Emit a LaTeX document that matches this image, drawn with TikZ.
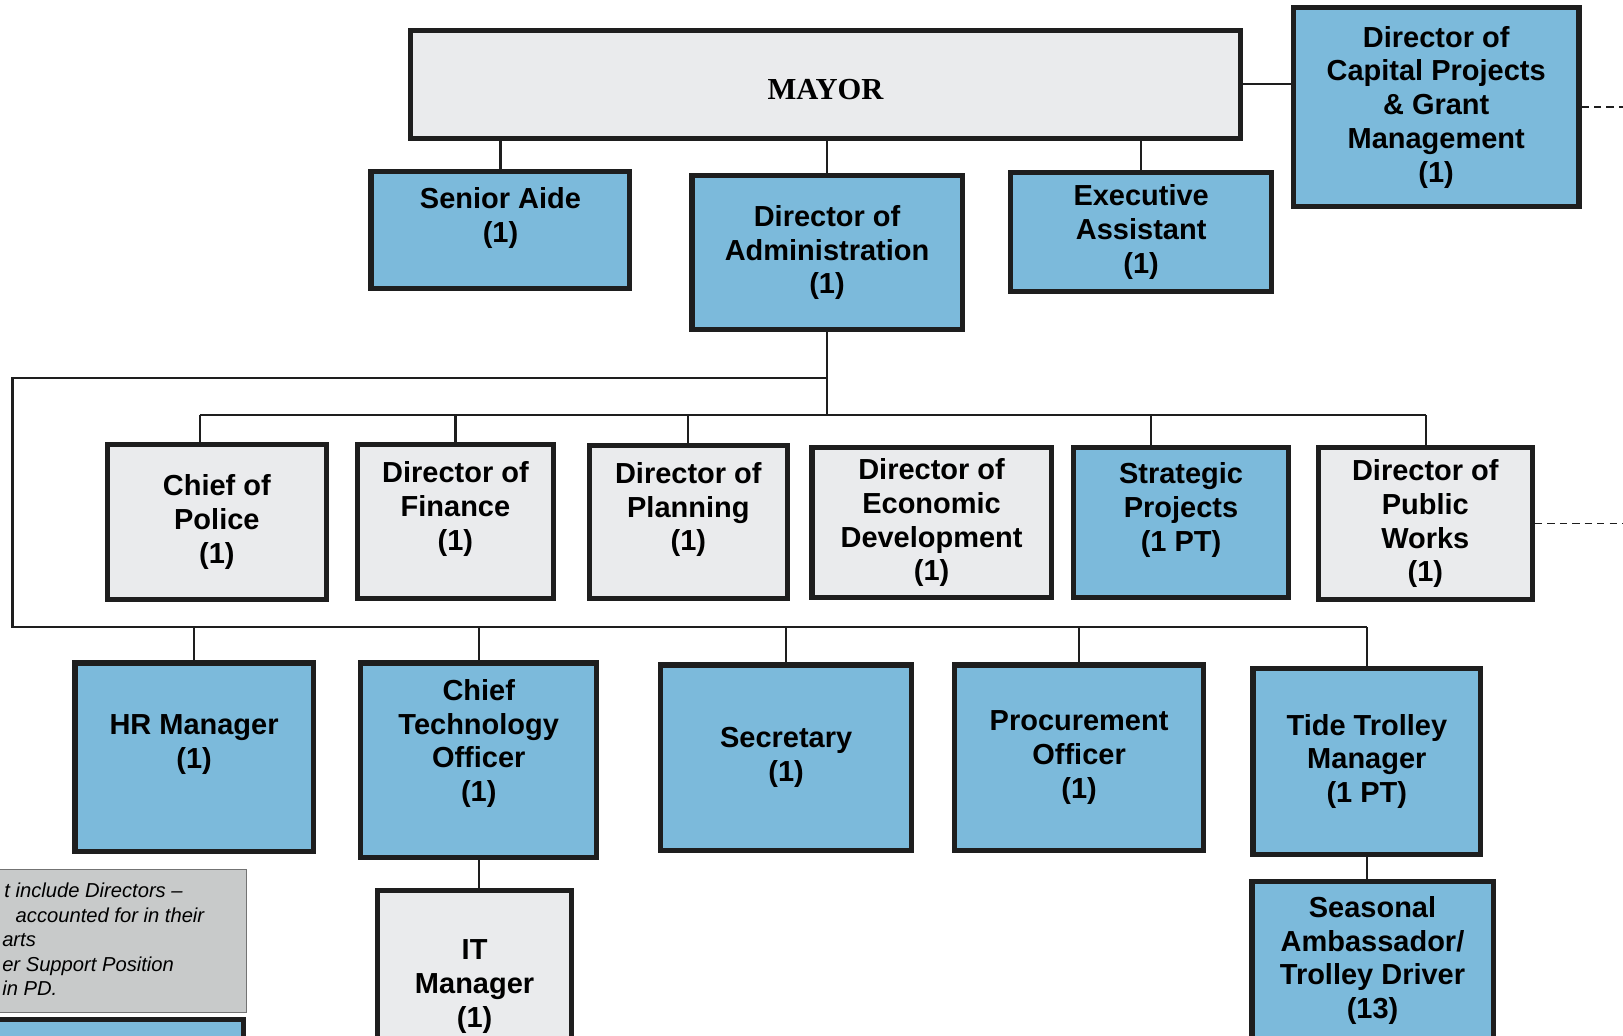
\documentclass[tikz,border=0pt]{standalone}
\usepackage{fontspec}
\setmainfont{Liberation Sans}
\newfontfamily\mayorfont{Liberation Serif}
\definecolor{boxblue}{RGB}{124,186,219}
\definecolor{boxgray}{RGB}{234,235,237}
\definecolor{notegray}{RGB}{200,202,202}
\definecolor{edge}{RGB}{30,30,30}

\begin{document}
\begin{tikzpicture}[x=1pt,y=-1pt,
  post/.style={draw=edge,line width=5pt,align=center,inner sep=2pt,
    font=\fontsize{28}{32.6}\selectfont\bfseries},
  bluepost/.style={post,fill=boxblue},
  graypost/.style={post,fill=boxgray},
  dims/.style 2 args={minimum width=#1pt,minimum height=#2pt},
  lift/.style={text depth=#1pt},
  link/.style={draw=edge,line width=2.1pt},
  dashlink/.style={draw=edge,line width=1.4pt,dash pattern=on 7pt off 5pt}]

\def\topbus{365}
\def\midbus{401}
\def\lowbus{606}

\useasboundingbox (0,0) rectangle (1568,1000);
\clip (0,0) rectangle (1568,1000);

\node[graypost,dims={802}{104},font=\mayorfont\fontsize{29.5}{32}\selectfont\bfseries,text height=30pt] (mayor) at (797.5,81.5) {MAYOR};
\node[bluepost,dims={276}{192}] (capital) at (1387.5,103.5) {Director of\\Capital Projects\\\& Grant\\Management\\(1)};
\node[bluepost,dims={250}{113},lift=28] (aide) at (483.5,222) {Senior Aide\\(1)};
\node[bluepost,dims={261}{149}] (admin) at (799,244) {Director of\\Administration\\(1)};
\node[bluepost,dims={252}{115}] (exec) at (1102.5,224) {Executive\\Assistant\\(1)};

\node[graypost,dims={212}{150}] (police) at (209.5,504.5) {Chief of\\Police\\(1)};
\node[graypost,dims={189}{149},lift=30] (finance) at (440,504) {Director of\\Finance\\(1)};
\node[graypost,dims={191}{148},lift=30] (planning) at (665,504.5) {Director of\\Planning\\(1)};
\node[graypost,dims={231}{145}] (econdev) at (900,505) {Director of\\Economic\\Development\\(1)};
\node[bluepost,dims={207}{145},lift=30] (strategic) at (1141,505) {Strategic\\Projects\\(1 PT)};
\node[graypost,dims={207}{147}] (publicworks) at (1377,506) {Director of\\Public\\Works\\(1)};

\node[bluepost,dims={230}{182},lift=30] (hr) at (187.5,731.5) {HR Manager\\(1)};
\node[bluepost,dims={228}{188},lift=38] (cto) at (462.5,734.5) {Chief\\Technology\\Officer\\(1)};
\node[bluepost,dims={242}{179}] (secretary) at (759.5,732) {Secretary\\(1)};
\node[bluepost,dims={240}{179}] (procurement) at (1042.5,732) {Procurement\\Officer\\(1)};
\node[bluepost,dims={220}{180}] (tide) at (1320.5,735.5) {Tide Trolley\\Manager\\(1 PT)};
\node[graypost,dims={188}{185}] (itmgr) at (458.5,953) {IT\\Manager\\(1)};
\node[bluepost,dims={233}{153}] (seasonal) at (1326,928) {Seasonal\\Ambassador/\\Trolley Driver\\(13)};

\node[draw=black!55,line width=1.2pt,fill=notegray,dims={248}{138},inner sep=0pt] (note) at (114,909) {};
\node[anchor=north west,align=left,inner sep=0pt,font=\fontsize{19.5}{23.7}\selectfont\itshape] (notetext) at (2,853) {\hspace*{2pt}t include Directors –\\\hspace*{13pt}accounted for in their\\arts\\er Support Position\\in PD.};
\node[bluepost,dims={243}{36}] (keybox) at (114,1003) {};

\coordinate (corner) at (12,\topbus);
\coordinate (lowcorner) at (12,\lowbus);
\coordinate (midleft) at (193,\midbus);
\coordinate (midright) at (1378,\midbus);
\coordinate (rim) at (1568,0);

\draw[link] (mayor.east) -- (capital.west |- mayor.east);
\foreach \n in {aide,admin,exec}
  \draw[link] (\n.north) -- (\n.north |- mayor.south);
\draw[link] (admin.south) -- (admin.south |- midleft);
\draw[link] (admin.south |- corner) -- (corner) -- (lowcorner) -- (tide.north |- lowcorner);
\draw[link] (midleft) -- (midright);
\draw[link] (midleft) -- (midleft |- police.north);
\draw[link] (midright) -- (midright |- publicworks.north);
\foreach \n in {finance,planning}
  \draw[link] (\n.north) -- (\n.north |- midleft);
\draw[link] ([xshift=-29pt]strategic.north) -- ([xshift=-29pt]strategic.north |- midleft);
\foreach \n in {hr,cto,secretary,procurement,tide}
  \draw[link] (\n.north) -- (\n.north |- lowcorner);
\draw[link] (cto.south) -- (cto.south |- itmgr.north);
\draw[link] (tide.south) -- (tide.south |- seasonal.north);
\draw[dashlink] (capital.east) -- (capital.east -| rim);
\draw[dashlink] (publicworks.east) -- (publicworks.east -| rim);
\end{tikzpicture}
\end{document}
